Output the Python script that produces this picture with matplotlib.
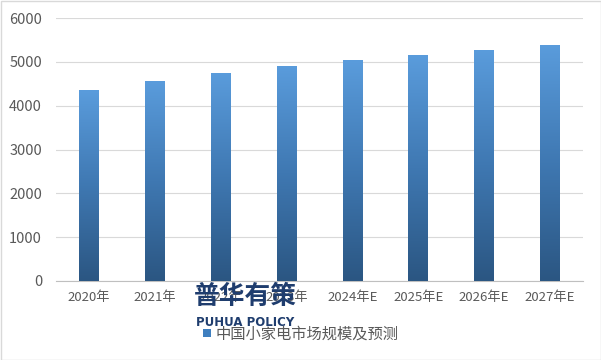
import matplotlib
matplotlib.use("Agg")
import matplotlib.pyplot as plt
import numpy as np
from matplotlib.colors import LinearSegmentedColormap
from matplotlib.patches import Rectangle

plt.rcParams['font.family'] = ['Noto Sans CJK SC', 'DejaVu Sans']

categories = ["2020年", "2021年", "2022年", "2023年", "2024年E", "2025年E", "2026年E", "2027年E"]
values = [4350, 4560, 4750, 4905, 5040, 5155, 5270, 5385]
yticks = [0, 1000, 2000, 3000, 4000, 5000, 6000]
series_name = "中国小家电市场规模及预测"

fig = plt.figure(figsize=(6.01, 3.60), dpi=100)
ax = fig.add_axes([56/601, 1-281/360, (583-56)/601, (281-18)/360])

x = np.arange(len(categories))
bars = ax.bar(x, values, width=0.30, color='none', edgecolor='none', zorder=3)

cmap = LinearSegmentedColormap.from_list("g", ["#2B5682", "#3F78B2", "#5A9CDC"])
grad = np.linspace(0, 1, 256).reshape(-1, 1)
for b in bars:
    x0, y0 = b.get_x(), b.get_y()
    w, h = b.get_width(), b.get_height()
    im = ax.imshow(grad, extent=[x0, x0 + w, y0, y0 + h], origin='lower',
                   cmap=cmap, aspect='auto', zorder=3)
    im.set_clip_path(b)

ax.set_xlim(-0.5, len(categories) - 0.5)
ax.set_ylim(0, 6000)
ax.set_yticks(yticks)
ax.set_xticks(x)
ax.set_xticklabels(categories)
ax.grid(axis='y', color='#D9D9D9', linewidth=0.8, zorder=0)
ax.set_axisbelow(True)
for s in ['top', 'right', 'left']:
    ax.spines[s].set_visible(False)
ax.spines['bottom'].set_color('#BFBFBF')
ax.spines['bottom'].set_linewidth(0.8)
ax.tick_params(axis='both', length=0, labelsize=9.5, colors='#595959', pad=7)
ax.tick_params(axis='y', labelsize=10.5, pad=10)

# legend
handle = Rectangle((0, 0), 1, 1, facecolor='#3F7FBF', edgecolor='none')
leg = fig.legend([handle], [series_name], loc='center', bbox_to_anchor=(0.5, 1-334/360),
                 frameon=False, fontsize=11, handlelength=0.5, handleheight=0.5,
                 handletextpad=0.3, labelcolor='#595959')

# watermark
fig.text(245/601, 1-296/360, "普华有策", ha='center', va='center', fontsize=18.5,
         fontweight='bold', color='#1F3D6E')
fig.text(245/601, 1-323/360, "PUHUA POLICY", ha='center', va='center', fontsize=8.5,
         fontweight='bold', color='#1F3D6E', family=['DejaVu Sans'])

# outer border
fig.patches.append(Rectangle((0.5/601, 0.5/360), 1-1/601, 1-1/360, transform=fig.transFigure,
                             fill=False, edgecolor='#D9D9D9', linewidth=1))

fig.savefig("out.png", dpi=100)
